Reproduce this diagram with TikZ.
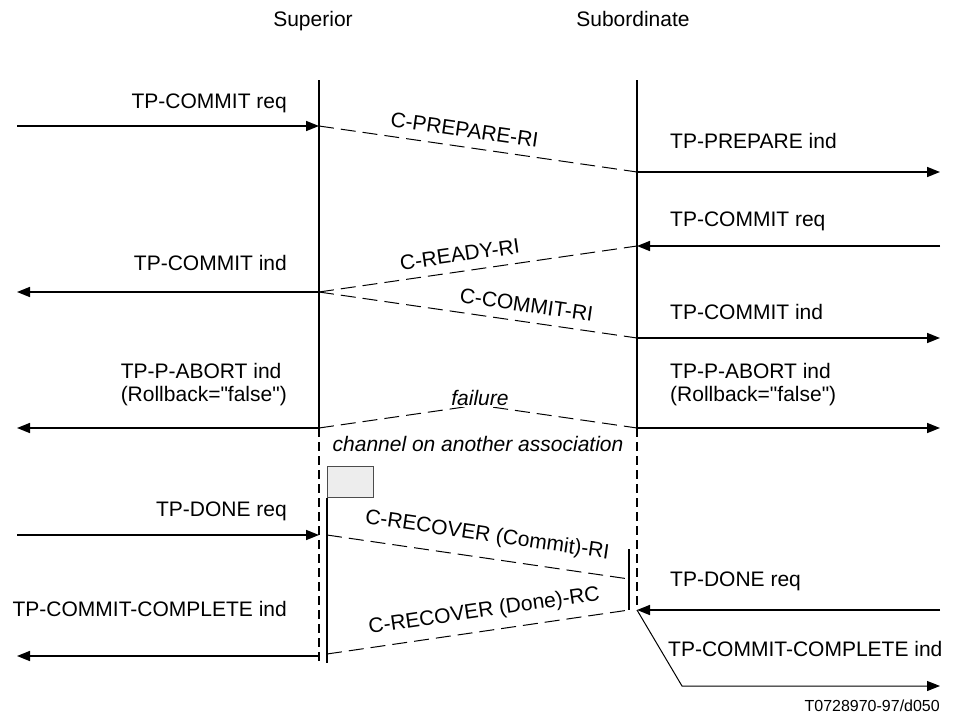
\documentclass[tikz,border=0pt]{standalone}
\usepackage{fontspec}
\setmainfont{Liberation Sans}[Ligatures=TeXOff]
\usetikzlibrary{arrows.meta}
\begin{document}
\begin{tikzpicture}[x=1pt,y=-1pt,
  every node/.style={font=\fontsize{21}{23}\selectfont, inner sep=0pt},
  msg/.style={line width=1.6pt,-{Triangle[length=13pt,width=10pt]}},
  thinmsg/.style={line width=1pt,-{Triangle[length=13pt,width=10pt]}},
  pdu/.style={line width=1pt,dash pattern=on 15pt off 7pt},
  life/.style={line width=1.8pt},
  lifedash/.style={line width=1.8pt,dash pattern=on 9pt off 5pt},
  plabel/.style={sloped,above=9pt},
  lbl/.style={anchor=base east},
  rbl/.style={anchor=base west}]
\useasboundingbox (0,0) rectangle (955,717);
% headings
\node[anchor=base] (hsup) at (313,27) {Superior};
\node[anchor=base] (hsub) at (633,27) {Subordinate};
% lifeline coordinates
\coordinate (LT) at (319,80);
\coordinate (LF) at (319,428);
\coordinate (LB) at (319,663);
\coordinate (RT) at (637,80);
\coordinate (RF) at (637,428);
\coordinate (RB) at (637,610);
\draw[life] (LT) -- (LF);
\draw[lifedash] (LF) -- (LB);
\draw[life] (RT) -- (RF);
\draw[lifedash] (RF) -- (RB);
% flag and recovery lines
\node[draw=black!70, line width=0.8pt, fill=black!7, minimum width=46pt, minimum height=31pt, anchor=north west] (flag) at (327,466) {};
\coordinate (LB2) at (327,663);
\draw[life] (flag.south west) -- (LB2);
\coordinate (RS1) at (629,549);
\coordinate (RS2) at (629,610);
\draw[life] (RS1) -- (RS2);
% points
\coordinate (a0) at (17,126);  \coordinate (a1) at (319,126);
\coordinate (b1) at (637,172); \coordinate (b2) at (940,172);
\coordinate (c2) at (940,246); \coordinate (c1) at (637,246);
\coordinate (d1) at (319,292); \coordinate (d0) at (17,292);
\coordinate (e1) at (637,338); \coordinate (e2) at (940,338);
\coordinate (f0) at (17,428);  \coordinate (f2) at (940,428);
\coordinate (apex) at (478,405);
\coordinate (g0) at (17,535);  \coordinate (g1) at (319,535); \coordinate (g1b) at (327,535);
\coordinate (h1) at (629,579);
\coordinate (i2) at (940,610); \coordinate (i1) at (637,610);
\coordinate (j1) at (629,610); \coordinate (j0b) at (327,654);
\coordinate (k1) at (319,656); \coordinate (k0) at (17,656);
\coordinate (m1) at (682,686); \coordinate (m2) at (940,686);
% messages
\draw[msg] (a0) -- (a1);
\node[lbl] (la) at (287,108) {TP-COMMIT req};
\draw[pdu] (a1) -- node[plabel,pos=0.45] (pa) {C-PREPARE-RI} (b1);
\draw[msg] (b1) -- (b2);
\node[rbl] (lb) at (670,148) {TP-PREPARE ind};
\draw[msg] (c2) -- (c1);
\node[rbl] (lc) at (670,226) {TP-COMMIT req};
\draw[pdu] (d1) -- node[plabel,pos=0.45] (pc) {C-READY-RI} (c1);
\draw[msg] (d1) -- (d0);
\node[lbl] (ld) at (287,270) {TP-COMMIT ind};
\draw[pdu] (d1) -- node[plabel,pos=0.645] (pe) {C-COMMIT-RI} (e1);
\draw[msg] (e1) -- (e2);
\node[rbl] (le) at (670,319) {TP-COMMIT ind};
% failure
\draw[msg] (LF) -- (f0);
\draw[msg] (RF) -- (f2);
\node[anchor=south east, align=left] (lf) at (287,406) {TP-P-ABORT ind\\(Rollback="false")};
\node[anchor=south west, align=left] (rf) at (670,406) {TP-P-ABORT ind\\(Rollback="false")};
\draw[pdu] (LF) -- (apex) -- (RF);
\node[fill=white, inner sep=2pt, font=\fontsize{21}{23}\selectfont\itshape, anchor=base] (fail) at (480,405) {failure};
\node[anchor=base, font=\fontsize{21}{23}\selectfont\itshape] (chan) at (478,451) {channel on another association};
% recovery
\draw[msg] (g0) -- (g1);
\node[lbl] (lg) at (287,516) {TP-DONE req};
\draw[pdu] (g1b) -- node[plabel,pos=0.52,above=3pt] (ph) {C-RECOVER (Commit)-RI} (h1);
\draw[msg] (i2) -- (i1);
\node[rbl] (li) at (670,586) {TP-DONE req};
\draw[pdu] (j0b) -- node[plabel,pos=0.53] (pj) {C-RECOVER (Done)-RC} (j1);
\draw[msg] (k1) -- (k0);
\node[lbl] (lk) at (287,616) {TP-COMMIT-COMPLETE ind};
\draw[thinmsg] (i1) -- (m1) -- (m2);
\node[rbl] (lm) at (668,656) {TP-COMMIT-COMPLETE ind};
\node[anchor=base east, font=\fontsize{16}{18}\selectfont] (ref) at (940,711) {T0728970-97/d050};
\end{tikzpicture}
\end{document}
